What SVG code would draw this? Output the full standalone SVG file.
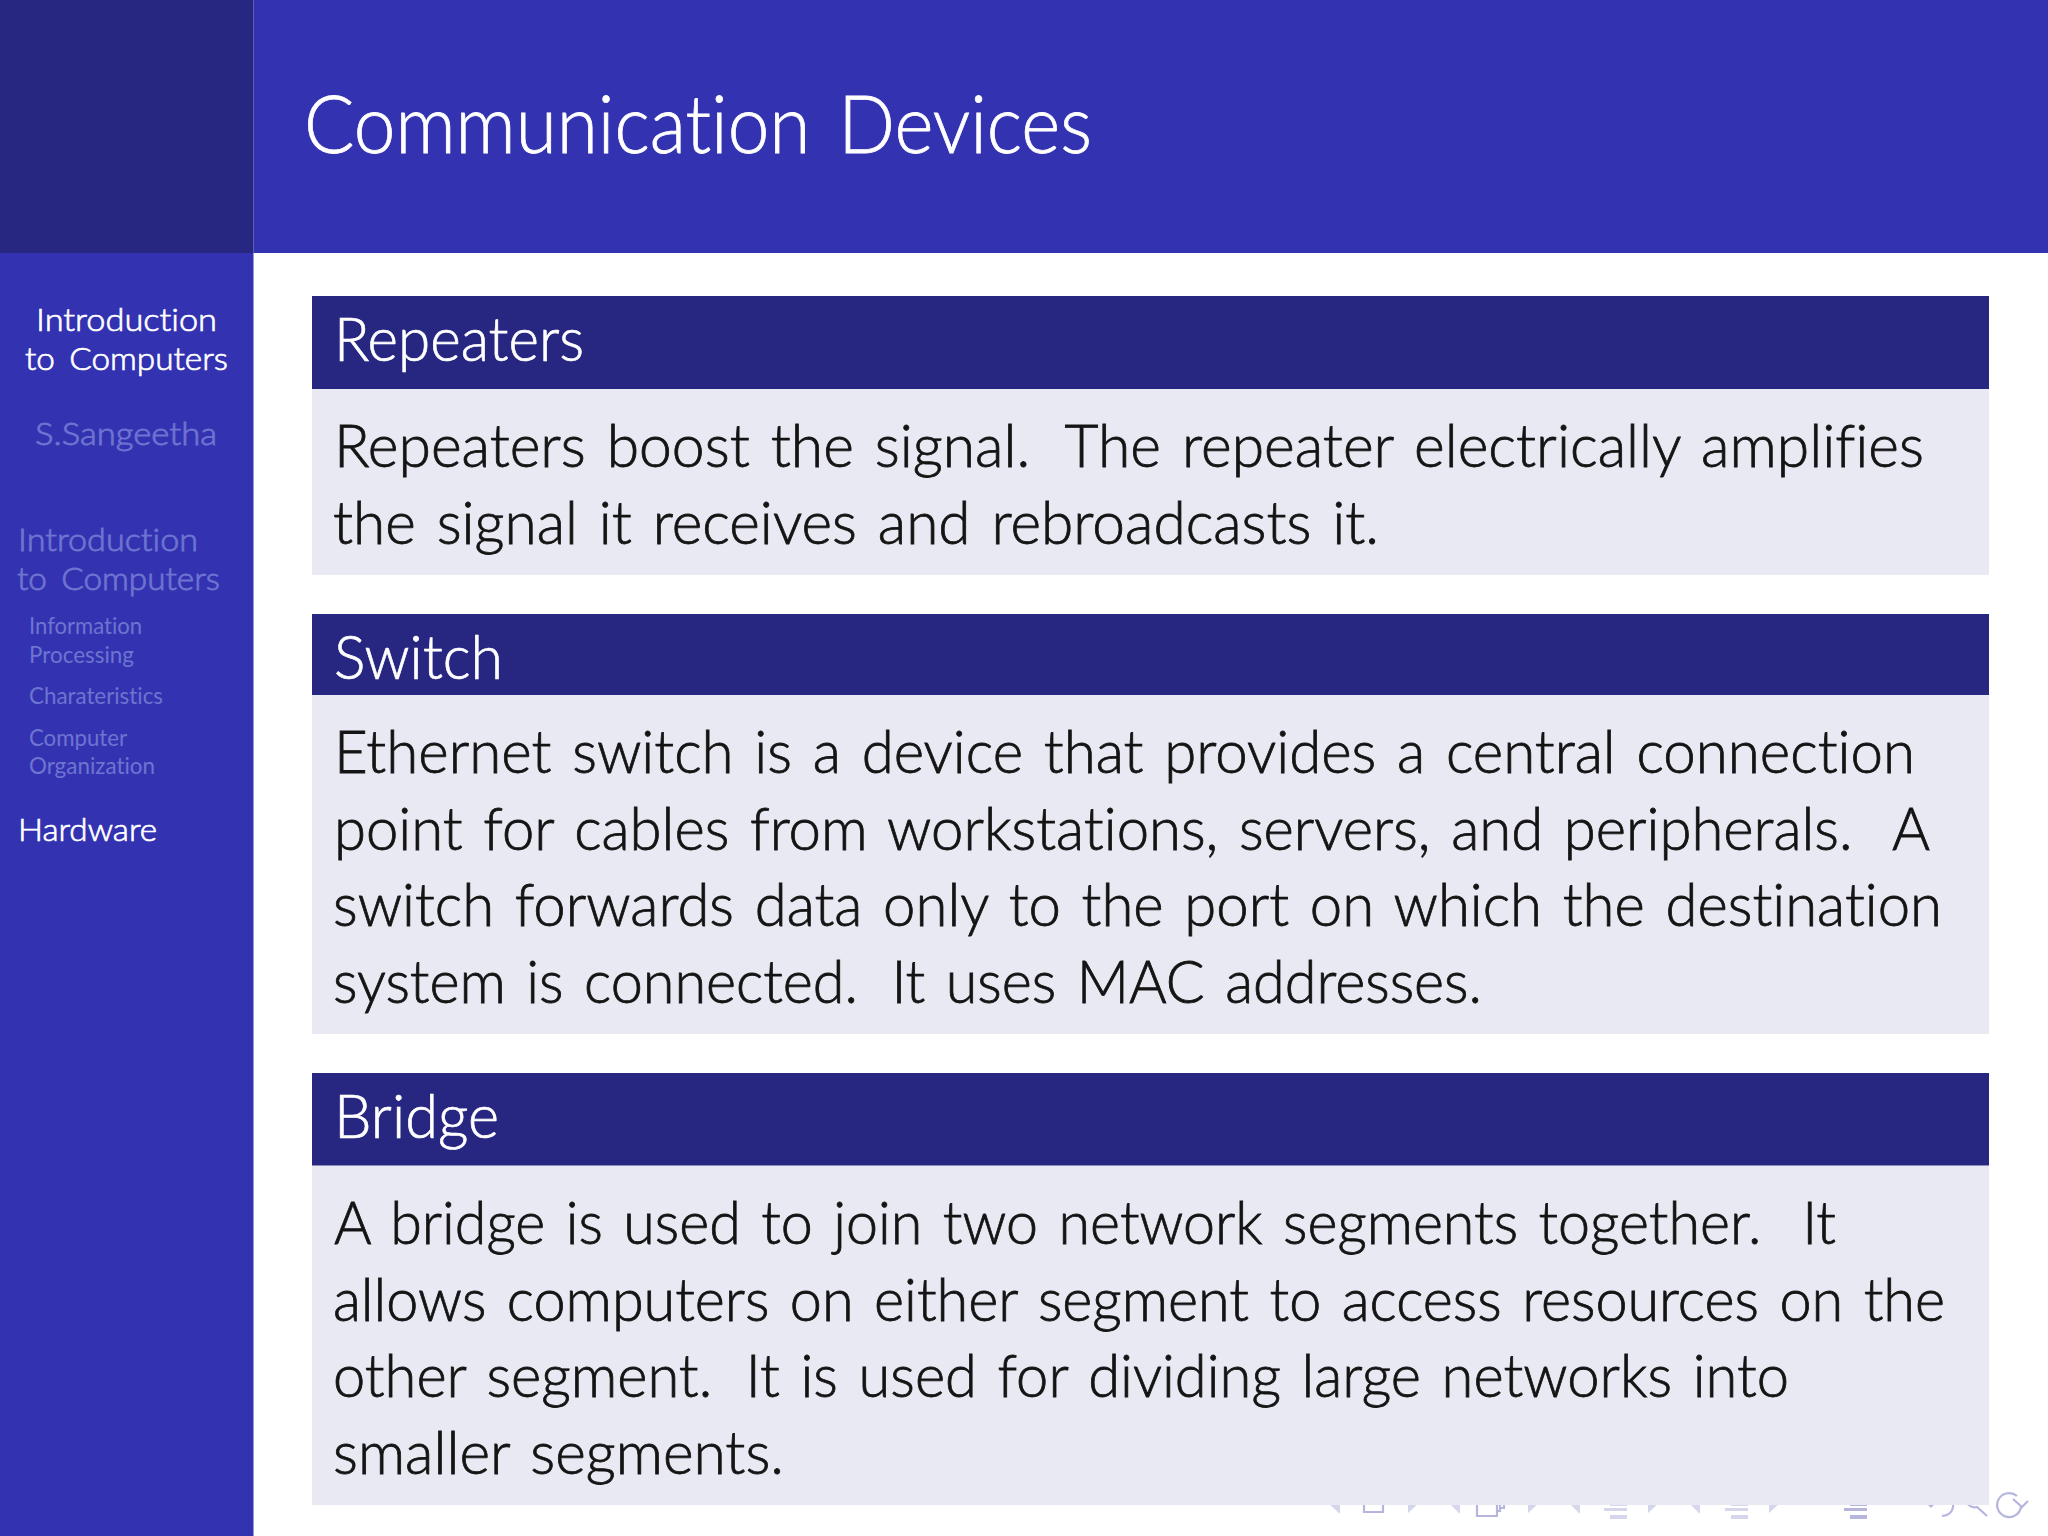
<svg xmlns="http://www.w3.org/2000/svg" width="2048" height="1536" viewBox="0 0 2048 1536">
<style>
text{font-family:"Lato","Liberation Sans",sans-serif;font-variant-ligatures:none;white-space:pre}
.b{font-size:59px;fill:#141414;font-weight:300;word-spacing:5px;stroke:#141414;stroke-width:.8px}
.g{font-size:49px;word-spacing:0}
.t{font-size:62px;fill:#fff;font-weight:300;stroke:#fff;stroke-width:.7px}
.s{font-size:32px;fill:#fff;word-spacing:5px;font-weight:300;stroke:#fff;stroke-width:.7px}
.d{font-size:32px;fill:#6e74d0;word-spacing:5px;font-weight:300;stroke:#6e74d0;stroke-width:.8px}
.e{font-size:23px;fill:#6e74d0}
.bh{fill:#272782}
.bb{fill:#e9e9f3}
.ic{fill:#d5d5ec}
.id{fill:#b5b5de}
.il{fill:none;stroke:#b5b5de;stroke-width:2.2px}
</style>
<rect width="2048" height="1536" fill="#fff"/>
<rect id="header" x="253.500" width="1794.500" height="253" fill="#3333b2"/>
<rect id="corner" width="253.500" height="253" fill="#272782"/>
<rect id="sidebar" y="253" width="253.500" height="1283" fill="#3333b2"/>
<text x="304" y="153" style="font-size:80px;fill:#fff;font-weight:300;word-spacing:8px;stroke:#fff;stroke-width:.8px" textLength="788" lengthAdjust="spacingAndGlyphs">Communication Devices</text>
<g id="nav">
<text class="s" x="36" y="331" textLength="181" lengthAdjust="spacingAndGlyphs">Introduction</text>
<text class="s" x="25" y="370" textLength="203" lengthAdjust="spacingAndGlyphs">to Computers</text>
<text class="d" x="35" y="445" textLength="182" lengthAdjust="spacingAndGlyphs">S.Sangeetha</text>
<text class="d" x="18" y="551" textLength="180" lengthAdjust="spacingAndGlyphs">Introduction</text>
<text class="d" x="17" y="590" textLength="203" lengthAdjust="spacingAndGlyphs">to Computers</text>
<text class="e" x="29" y="634" textLength="113" lengthAdjust="spacingAndGlyphs">Information</text>
<text class="e" x="29" y="663" textLength="105" lengthAdjust="spacingAndGlyphs">Processing</text>
<text class="e" x="29" y="704" textLength="134" lengthAdjust="spacingAndGlyphs">Charateristics</text>
<text class="e" x="29" y="746" textLength="98" lengthAdjust="spacingAndGlyphs">Computer</text>
<text class="e" x="29" y="774" textLength="126" lengthAdjust="spacingAndGlyphs">Organization</text>
<text class="s" x="18" y="841" textLength="139" lengthAdjust="spacingAndGlyphs">Hardware</text>
</g>
<g id="icons">
<path class="ic" d="M1328 1503h12v11z"/>
<path class="il" d="M1364 1500v12h19v-12"/>
<path class="ic" d="M1408 1503h11l-11 10z"/>
<path class="ic" d="M1449 1503h11v11z"/>
<path class="il" d="M1477 1500v16h20v-16M1497 1511h3v-7M1500 1508h4v-4"/>
<path class="ic" d="M1528 1503h11l-11 10z"/>
<path class="ic" d="M1569 1503h11v11z"/>
<rect class="ic" x="1604" y="1508" width="23" height="3"/><rect class="ic" x="1610" y="1515" width="17" height="4"/><rect class="ic" x="1610" y="1504" width="17" height="2"/>
<path class="ic" d="M1648 1503h11l-11 10z"/>
<path class="ic" d="M1689 1503h11v11z"/>
<rect class="ic" x="1725" y="1508" width="23" height="3"/><rect class="ic" x="1731" y="1515" width="17" height="4"/><rect class="ic" x="1731" y="1504" width="17" height="2"/>
<path class="ic" d="M1769 1503h11l-11 10z"/>
<rect class="id" x="1844" y="1508" width="23" height="3"/><rect class="id" x="1850" y="1515" width="17" height="4"/><rect class="id" x="1850" y="1504" width="17" height="2"/>
<path class="id" d="M1926 1503h10l-5 5z"/>
<path class="il" d="M1953 1500q2 15-11 16"/>
<path class="il" d="M1966 1500a9 9 0 0 0 11 7l10 9"/>
<path class="il" d="M2017 1496A12 12 0 1 0 2021 1507M2013 1499l9 8 6-6"/>
</g>
<g id="block-repeaters">
<rect class="bb" x="312" y="389" width="1677" height="186"/><rect class="bh" x="312" y="296" width="1677" height="93"/>
<text class="t" x="334" y="361" textLength="250" lengthAdjust="spacingAndGlyphs">Repeaters</text>
<text class="b" x="334" y="467" textLength="1590" lengthAdjust="spacingAndGlyphs">Repeaters boost the signal. <tspan class="g"> </tspan>The repeater electrically amplifies</text>
<text class="b" x="333" y="544" textLength="1046" lengthAdjust="spacingAndGlyphs">the signal it receives and rebroadcasts it.</text>
</g>
<g id="block-switch">
<rect class="bb" x="312" y="695" width="1677" height="339"/><rect class="bh" x="312" y="614" width="1677" height="81"/>
<text class="t" x="334" y="679" textLength="169" lengthAdjust="spacingAndGlyphs">Switch</text>
<text class="b" x="334" y="772.500" textLength="1581" lengthAdjust="spacingAndGlyphs">Ethernet switch is a device that provides a central connection</text>
<text class="b" x="334" y="849.500" textLength="1596" lengthAdjust="spacingAndGlyphs">point for cables from workstations, servers, and peripherals.  A</text>
<text class="b" x="333" y="926" textLength="1609" lengthAdjust="spacingAndGlyphs">switch forwards data only to the port on which the destination</text>
<text class="b" x="333" y="1003" textLength="1149" lengthAdjust="spacingAndGlyphs">system is connected. <tspan class="g"> </tspan>It uses MAC addresses.</text>
</g>
<g id="block-bridge">
<rect class="bb" x="312" y="1165.500" width="1677" height="339.500"/><rect class="bh" x="312" y="1073" width="1677" height="92.500"/>
<text class="t" x="334" y="1138" textLength="165" lengthAdjust="spacingAndGlyphs">Bridge</text>
<text class="b" x="334" y="1243.500" textLength="1502" lengthAdjust="spacingAndGlyphs">A bridge is used to join two network segments together.  It</text>
<text class="b" x="333" y="1320.500" textLength="1612" lengthAdjust="spacingAndGlyphs">allows computers on either segment to access resources on the</text>
<text class="b" x="333" y="1397" textLength="1456" lengthAdjust="spacingAndGlyphs">other segment. <tspan class="g"> </tspan>It is used for dividing large networks into</text>
<text class="b" x="333" y="1474" textLength="451" lengthAdjust="spacingAndGlyphs">smaller segments.</text>
</g>
</svg>
